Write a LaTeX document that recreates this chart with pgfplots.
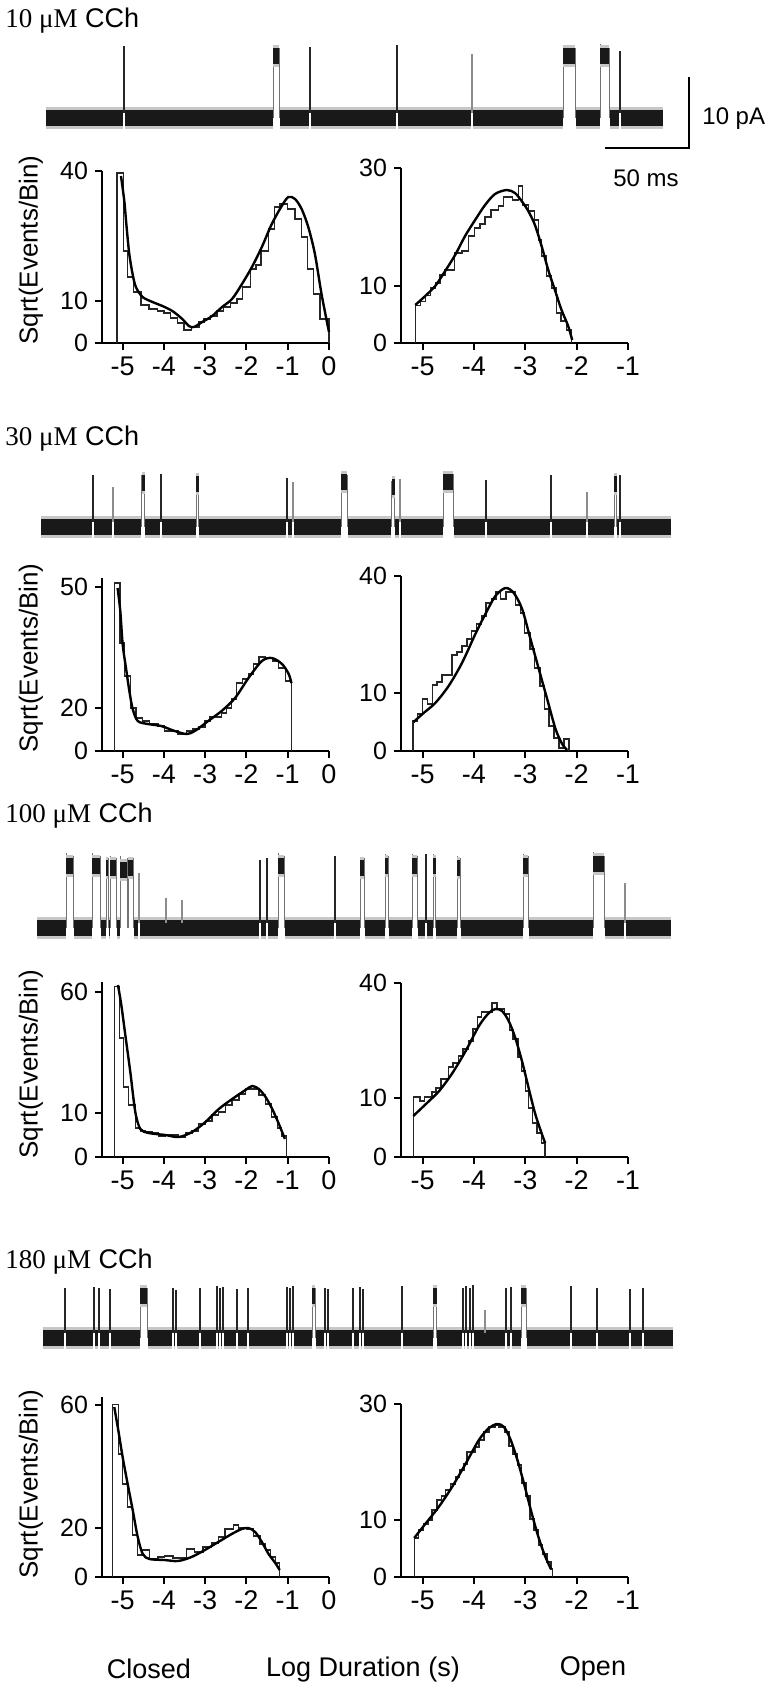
\documentclass[border=0pt]{standalone}
\usepackage{fontspec}
\setmainfont{Liberation Sans}
\newfontfamily\timesf{Liberation Serif}
\usepackage{pgfplots}
\pgfplotsset{compat=1.18}
\newcommand\tickx{\fontsize{13.5bp}{15bp}\selectfont}
\newcommand\ticky{\fontsize{12.5bp}{14bp}\selectfont}
\newcommand\labf{\fontsize{13bp}{15bp}\selectfont}
\newcommand\ttlf{\fontsize{13.5bp}{16bp}\selectfont}
\newcommand\scf{\fontsize{12bp}{14bp}\selectfont}
\newcommand\botf{\fontsize{13.5bp}{16bp}\selectfont}
\pgfplotsset{
  histax/.style={scale only axis, width=113.5bp, ymin=0, clip=false, anchor=south west,
    axis x line*=bottom, axis y line*=left, axis line style={line width=1bp,-},
    x axis line style={shorten <=-2.5bp},
    tick align=outside, major tick length=3.5bp, every tick/.style={line width=1bp,black},
    xticklabel style={font=\tickx}, yticklabel style={font=\ticky}},
  histl/.style={histax, xmin=-5.5, xmax=0, xtick={-5,-4,-3,-2,-1,0}, xticklabels={-5,-4,-3,-2,-1,0}},
  histr/.style={histax, xmin=-5.42, xmax=-1, xtick={-5,-4,-3,-2,-1}, xticklabels={-5,-4,-3,-2,-1}},
  hst/.style={const plot mark left, line width=0.7bp, black!85},
  fitc/.style={smooth, line width=1.2bp, black},
  trace/.style={scale only axis, hide axis, clip=false, anchor=south west, width=383bp, height=70bp,
    xmin=0, xmax=766, ymin=-40, ymax=100, unbounded coords=jump},
  band/.style={black!22, line width=11bp, postaction={draw=black!90, line width=8bp}},
  spk/.style={black!85, line width=0.6bp},
  gspk/.style={black!45, line width=0.6bp},
  edg/.style={black!55, line width=0.5bp},
}
\begin{document}
\begin{tikzpicture}
\useasboundingbox (0bp,0bp) rectangle (383bp,-849.5bp);

% ---------------- titles
\node[anchor=west, font=\ttlf, inner sep=0] at (2.5bp,-10.5bp) {{\timesf 10 μM} CCh};
\node[anchor=west, font=\ttlf, inner sep=0] at (2.5bp,-219.5bp) {{\timesf 30 μM} CCh};
\node[anchor=west, font=\ttlf, inner sep=0] at (2.5bp,-408bp) {{\timesf 100 μM} CCh};
\node[anchor=west, font=\ttlf, inner sep=0] at (2.5bp,-631bp) {{\timesf 180 μM} CCh};

% ---------------- scale bar
\draw[line width=1bp] (344.5bp,-38.5bp) -- (344.5bp,-74bp) -- (302.5bp,-74bp);
\node[anchor=west, font=\scf, inner sep=0] at (351bp,-59.5bp) {10 pA};
\node[font=\scf, inner sep=0] at (323bp,-89bp) {50 ms};

% ---------------- y labels
\node[rotate=90, font=\labf] at (15.5bp,-125bp) {Sqrt(Events/Bin)};
\node[rotate=90, font=\labf] at (15.5bp,-329bp) {Sqrt(Events/Bin)};
\node[rotate=90, font=\labf] at (15.5bp,-532bp) {Sqrt(Events/Bin)};
\node[rotate=90, font=\labf] at (15.5bp,-742bp) {Sqrt(Events/Bin)};

% ---------------- bottom labels
\node[font=\botf] at (74.5bp,-834.5bp) {Closed};
\node[font=\botf] at (181.5bp,-834.5bp) {Log Duration (s)};
\node[font=\botf] at (296.5bp,-834.5bp) {Open};

% ================= TRACE 1 (10 uM)
\begin{axis}[trace, at={(0bp,-78.75bp)}]
\addplot[band] coordinates {(46,0)(123.4,0) (nan,nan) (124.6,0)(272.5,0) (nan,nan) (279.5,0)(309.4,0) (nan,nan) (310.6,0)(396.4,0) (nan,nan) (397.6,0)(471.4,0) (nan,nan) (472.6,0)(562.5,0) (nan,nan) (575.5,0)(599.5,0) (nan,nan) (609.5,0)(619.4,0) (nan,nan) (620.6,0)(663,0)};
\addplot[spk] coordinates {(124,5)(124,72) (nan,nan) (310,5)(310,71) (nan,nan) (397,5)(397,73) (nan,nan) (620,5)(620,67)};
\addplot[gspk] coordinates {(472,5)(472,64)};
\addplot[edg] coordinates {(273,0)(273,72) (nan,nan) (279,0)(279,70) (nan,nan) (563,0)(563,72) (nan,nan) (575,0)(575,70) (nan,nan) (600,0)(600,74) (nan,nan) (609,0)(609,70)};
\addplot[band] coordinates {(273,62)(279,62) (nan,nan) (563,62)(575,62) (nan,nan) (600,62)(609,62)};
\end{axis}

% ================= TRACE 2 (30 uM)
\begin{axis}[trace, at={(0bp,-283.5bp)}]
\addplot[band] coordinates {(41,0)(92.4,0) (nan,nan) (93.6,0)(112.4,0) (nan,nan) (113.6,0)(141,0) (nan,nan) (145,0)(160.4,0) (nan,nan) (161.6,0)(195.5,0) (nan,nan) (199,0)(286.4,0) (nan,nan) (287.6,0)(292.4,0) (nan,nan) (293.6,0)(340.5,0) (nan,nan) (347.5,0)(391,0) (nan,nan) (395,0)(399.4,0) (nan,nan) (400.6,0)(442.5,0) (nan,nan) (453.5,0)(485.4,0) (nan,nan) (486.6,0)(550.4,0) (nan,nan) (551.6,0)(586.4,0) (nan,nan) (587.6,0)(613.5,0) (nan,nan) (617,0)(619.4,0) (nan,nan) (620.6,0)(671,0)};
\addplot[spk] coordinates {(93,5)(93,52) (nan,nan) (161,5)(161,53) (nan,nan) (287,5)(287,49) (nan,nan) (486,5)(486,47) (nan,nan) (551,5)(551,52) (nan,nan) (620,5)(620,52)};
\addplot[gspk] coordinates {(113,5)(113,40) (nan,nan) (293,5)(293,45) (nan,nan) (400,5)(400,48) (nan,nan) (587,5)(587,35)};
\addplot[edg] coordinates {(141.5,0)(141.5,52) (nan,nan) (144.5,0)(144.5,50) (nan,nan) (196,0)(196,50) (nan,nan) (198.5,0)(198.5,49) (nan,nan) (341,0)(341,55) (nan,nan) (347,0)(347,52) (nan,nan) (391.5,0)(391.5,46) (nan,nan) (394.5,0)(394.5,46) (nan,nan) (443,0)(443,56) (nan,nan) (453,0)(453,53) (nan,nan) (614,0)(614,50) (nan,nan) (616.5,0)(616.5,50)};
\addplot[band] coordinates {(141.5,44)(144.5,44) (nan,nan) (196,43)(198.5,43) (nan,nan) (341,45)(347,45) (nan,nan) (391.5,40)(394.5,40) (nan,nan) (443,45)(453,45) (nan,nan) (614,43)(616.5,43)};
\end{axis}

% ================= TRACE 3 (100 uM)
\begin{axis}[trace, at={(0bp,-484bp)}]
\addplot[band] coordinates {(37,0)(65.5,0) (nan,nan) (73.5,0)(91.5,0) (nan,nan) (100.5,0)(105.5,0) (nan,nan) (108.5,0)(109.5,0) (nan,nan) (116.5,0)(119.5,0) (nan,nan) (133.5,0)(138.4,0) (nan,nan) (139.6,0)(259.4,0) (nan,nan) (260.6,0)(266.4,0) (nan,nan) (267.6,0)(277.5,0) (nan,nan) (284.5,0)(334.4,0) (nan,nan) (335.6,0)(359.5,0) (nan,nan) (364.5,0)(384.5,0) (nan,nan) (388.5,0)(411.5,0) (nan,nan) (417.5,0)(425.4,0) (nan,nan) (426.6,0)(432.5,0) (nan,nan) (436,0)(456.5,0) (nan,nan) (460.5,0)(522.5,0) (nan,nan) (528.5,0)(592.5,0) (nan,nan) (604.5,0)(624.4,0) (nan,nan) (625.6,0)(671,0)};
\addplot[spk] coordinates {(260,5)(260,68) (nan,nan) (267,5)(267,70) (nan,nan) (335,5)(335,72) (nan,nan) (426,5)(426,74)};
\addplot[gspk] coordinates {(139,5)(139,55) (nan,nan) (166,5)(166,30) (nan,nan) (182,5)(182,28) (nan,nan) (625,5)(625,45)};
\addplot[edg] coordinates {(66,0)(66,75) (nan,nan) (73,0)(73,72) (nan,nan) (92,0)(92,75) (nan,nan) (100,0)(100,72) (nan,nan) (106,0)(106,70) (nan,nan) (108,0)(108,70) (nan,nan) (110,0)(110,72) (nan,nan) (116,0)(116,70) (nan,nan) (120,0)(120,72) (nan,nan) (127,0)(127,70) (nan,nan) (128,0)(128,70) (nan,nan) (133,0)(133,70) (nan,nan) (278,0)(278,75) (nan,nan) (284,0)(284,72) (nan,nan) (360,0)(360,70) (nan,nan) (364,0)(364,70) (nan,nan) (385,0)(385,74) (nan,nan) (388,0)(388,72) (nan,nan) (412,0)(412,74) (nan,nan) (417,0)(417,72) (nan,nan) (433,0)(433,74) (nan,nan) (435.5,0)(435.5,72) (nan,nan) (457,0)(457,72) (nan,nan) (460,0)(460,70) (nan,nan) (523,0)(523,74) (nan,nan) (528,0)(528,72) (nan,nan) (593,0)(593,76) (nan,nan) (604,0)(604,72)};
\addplot[band] coordinates {(66,62)(73,62) (nan,nan) (92,62)(100,62) (nan,nan) (106,60)(108,60) (nan,nan) (110,60)(116,60) (nan,nan) (120,58)(127,58) (nan,nan) (128,60)(133,60) (nan,nan) (278,62)(284,62) (nan,nan) (360,60)(364,60) (nan,nan) (385,62)(388,62) (nan,nan) (412,62)(417,62) (nan,nan) (433,62)(435.5,62) (nan,nan) (457,60)(460,60) (nan,nan) (523,62)(528,62) (nan,nan) (593,64)(604,64)};
\end{axis}

% ================= TRACE 4 (180 uM)
\begin{axis}[trace, at={(0bp,-689bp)}]
\addplot[band] coordinates {(43,0)(64.4,0) (nan,nan) (65.6,0)(93.4,0) (nan,nan) (94.6,0)(98.4,0) (nan,nan) (99.6,0)(109.4,0) (nan,nan) (110.6,0)(139.5,0) (nan,nan) (147.5,0)(172.4,0) (nan,nan) (173.6,0)(175.4,0) (nan,nan) (176.6,0)(199.4,0) (nan,nan) (200.6,0)(216.4,0) (nan,nan) (217.6,0)(219.4,0) (nan,nan) (220.6,0)(222.4,0) (nan,nan) (223.6,0)(236.4,0) (nan,nan) (237.6,0)(247.4,0) (nan,nan) (248.6,0)(286.4,0) (nan,nan) (287.6,0)(289.4,0) (nan,nan) (290.6,0)(292.4,0) (nan,nan) (293.6,0)(311.5,0) (nan,nan) (315.5,0)(324.4,0) (nan,nan) (325.6,0)(327.4,0) (nan,nan) (328.6,0)(352.4,0) (nan,nan) (353.6,0)(359.4,0) (nan,nan) (360.6,0)(362.4,0) (nan,nan) (363.6,0)(401.4,0) (nan,nan) (402.6,0)(432.5,0) (nan,nan) (437,0)(462.4,0) (nan,nan) (463.6,0)(465.4,0) (nan,nan) (466.6,0)(469.4,0) (nan,nan) (470.6,0)(472.4,0) (nan,nan) (473.6,0)(505.4,0) (nan,nan) (506.6,0)(510.4,0) (nan,nan) (511.6,0)(520.5,0) (nan,nan) (526.5,0)(570.4,0) (nan,nan) (571.6,0)(596.4,0) (nan,nan) (597.6,0)(629.4,0) (nan,nan) (630.6,0)(642.4,0) (nan,nan) (643.6,0)(673,0)};
\addplot[spk] coordinates {(65,5)(65,50) (nan,nan) (94,5)(94,51) (nan,nan) (99,5)(99,50) (nan,nan) (110,5)(110,49) (nan,nan) (173,5)(173,50) (nan,nan) (176,5)(176,48) (nan,nan) (200,5)(200,50) (nan,nan) (217,5)(217,52) (nan,nan) (220,5)(220,50) (nan,nan) (223,5)(223,51) (nan,nan) (237,5)(237,49) (nan,nan) (248,5)(248,50) (nan,nan) (287,5)(287,51) (nan,nan) (290,5)(290,50) (nan,nan) (293,5)(293,52) (nan,nan) (325,5)(325,50) (nan,nan) (328,5)(328,49) (nan,nan) (353,5)(353,50) (nan,nan) (360,5)(360,51) (nan,nan) (363,5)(363,49) (nan,nan) (402,5)(402,52) (nan,nan) (463,5)(463,50) (nan,nan) (466,5)(466,52) (nan,nan) (470,5)(470,50) (nan,nan) (473,5)(473,53) (nan,nan) (506,5)(506,50) (nan,nan) (511,5)(511,51) (nan,nan) (571,5)(571,52) (nan,nan) (597,5)(597,50) (nan,nan) (630,5)(630,49) (nan,nan) (643,5)(643,50)};
\addplot[gspk] coordinates {(485,5)(485,28)};
\addplot[edg] coordinates {(140,0)(140,52) (nan,nan) (147,0)(147,50) (nan,nan) (312,0)(312,52) (nan,nan) (315,0)(315,50) (nan,nan) (433,0)(433,53) (nan,nan) (436.5,0)(436.5,50) (nan,nan) (521,0)(521,52) (nan,nan) (526,0)(526,50)};
\addplot[band] coordinates {(140,42)(147,42) (nan,nan) (312,42)(315,42) (nan,nan) (433,42)(436.5,42) (nan,nan) (521,42)(526,42)};
\end{axis}

% ================= PANEL 1 LEFT
\begin{axis}[histl, at={(51bp,-171.5bp)}, height=86bp, ymax=172, ytick={0,42,172}, yticklabels={0,10,40}]
\addplot[hst] coordinates {(-5.137,0)(-5.137,170)(-4.984,92)(-4.880,66)(-4.735,51)(-4.558,38)(-4.357,34)(-4.157,32)(-3.996,30)(-3.835,25)(-3.675,20)(-3.514,13)(-3.329,16)(-3.153,21)(-3.032,24)(-2.871,27)(-2.711,32)(-2.550,36)(-2.390,40)(-2.229,44)(-2.092,56)(-1.908,74)(-1.771,78)(-1.643,92)(-1.466,114)(-1.321,136)(-1.185,139)(-1.000,134)(-0.823,124)(-0.663,106)(-0.518,74)(-0.382,49)(-0.221,24)(-0.141,24)(0,24)(0,0)};
\addplot[fitc] coordinates {(-5.040,167)(-4.960,142)(-4.904,116)(-4.839,89)(-4.759,69)(-4.679,56)(-4.518,46)(-4.277,41)(-4.036,37)(-3.795,32)(-3.554,24)(-3.394,17)(-3.273,16)(-3.072,21)(-2.831,27)(-2.590,36)(-2.349,44)(-2.108,59)(-1.867,76)(-1.627,96)(-1.386,119)(-1.145,137)(-0.984,146)(-0.823,144)(-0.663,134)(-0.502,116)(-0.341,89)(-0.181,49)(0,11)};
\end{axis}

% ================= PANEL 1 RIGHT
\begin{axis}[histr, at={(200.5bp,-171.5bp)}, height=87.75bp, ymax=175.5, ytick={0,57.5,175.5}, yticklabels={0,10,30}]
\addplot[hst] coordinates {(-5.142,0)(-5.142,37.7)(-5.045,41.7)(-4.948,47.7)(-4.851,55)(-4.754,60)(-4.657,68)(-4.560,73)(-4.379,90)(-4.236,92)(-4.107,107)(-3.990,115)(-3.880,119)(-3.783,126)(-3.667,133)(-3.524,137)(-3.427,146)(-3.252,143)(-3.136,157)(-3.058,138)(-2.942,132)(-2.825,123)(-2.748,103)(-2.683,87)(-2.586,67)(-2.489,55)(-2.392,30)(-2.307,22)(-2.197,13)(-2.100,13)(-2.100,0)};
\addplot[fitc] coordinates {(-5.142,38)(-4.948,47)(-4.754,57)(-4.560,72)(-4.366,88)(-4.172,107)(-3.977,123)(-3.783,138)(-3.589,149)(-3.362,153)(-3.201,150)(-3.071,142)(-2.942,132)(-2.812,118)(-2.683,97)(-2.553,73)(-2.424,53)(-2.294,33)(-2.165,17)(-2.087,3)};
\end{axis}

% ================= PANEL 2 LEFT
\begin{axis}[histl, at={(51bp,-375.5bp)}, height=86.5bp, ymax=173, ytick={0,43.3,164}, yticklabels={0,20,50}]
\addplot[hst] coordinates {(-5.203,0)(-5.203,168)(-5.065,108)(-4.959,75)(-4.813,43)(-4.675,33)(-4.512,30)(-4.350,27)(-4.146,25)(-3.984,20)(-3.659,17)(-3.455,20)(-3.293,22)(-3.154,24)(-3.008,30)(-2.886,34)(-2.764,34)(-2.602,38)(-2.480,43)(-2.358,52)(-2.236,68)(-2.098,72)(-1.951,77)(-1.829,87)(-1.691,94)(-1.545,93)(-1.366,90)(-1.220,83)(-1.057,70)(-0.911,70)(-0.911,0)};
\addplot[fitc] coordinates {(-5.122,163)(-5.057,140)(-5.0,107)(-4.919,83)(-4.837,60)(-4.756,42)(-4.634,30)(-4.390,27)(-4.065,25)(-3.740,20)(-3.455,17)(-3.252,20)(-2.927,30)(-2.602,40)(-2.276,53)(-1.951,73)(-1.626,90)(-1.382,93)(-1.138,87)(-0.976,77)(-0.911,68)};
\end{axis}

% ================= PANEL 2 RIGHT
\begin{axis}[histr, at={(200.5bp,-375.5bp)}, height=87.5bp, ymax=175, ytick={0,58.4,175}, yticklabels={0,10,40}]
\addplot[hst] coordinates {(-5.189,0)(-5.189,30)(-5.098,37)(-5.0,52)(-4.902,47)(-4.805,66)(-4.720,69)(-4.623,76)(-4.525,76)(-4.428,96)(-4.330,99)(-4.233,105)(-4.135,112)(-4.050,120)(-3.953,127)(-3.855,135)(-3.764,148)(-3.660,152)(-3.569,159)(-3.485,152)(-3.374,159)(-3.192,146)(-3.094,138)(-3.010,118)(-2.912,102)(-2.815,83)(-2.717,65)(-2.626,42)(-2.541,25)(-2.444,13)(-2.346,3)(-2.249,12)(-2.151,12)(-2.151,0)};
\addplot[fitc] coordinates {(-5.176,29)(-4.980,38)(-4.753,48)(-4.493,65)(-4.233,88)(-3.972,117)(-3.777,137)(-3.582,155)(-3.387,163)(-3.224,158)(-3.062,142)(-2.899,112)(-2.737,82)(-2.574,52)(-2.411,22)(-2.281,7)(-2.184,1)};
\end{axis}

% ================= PANEL 3 LEFT
\begin{axis}[histl, at={(51bp,-578.5bp)}, height=87.5bp, ymax=175, ytick={0,44,165}, yticklabels={0,10,60}]
\addplot[hst] coordinates {(-5.202,0)(-5.202,170.7)(-5.081,119)(-4.976,70)(-4.854,52)(-4.693,29)(-4.571,26)(-4.450,25)(-4.288,24)(-4.126,21)(-3.964,22)(-3.641,20)(-3.479,24)(-3.317,26)(-3.155,33)(-2.994,36)(-2.832,42)(-2.670,45)(-2.508,52)(-2.346,57)(-2.184,63)(-2.023,68)(-1.861,68)(-1.699,62)(-1.537,53)(-1.392,40)(-1.254,29)(-1.149,21)(-1.036,21)(-1.036,0)};
\addplot[fitc] coordinates {(-5.113,172)(-5.032,152)(-4.935,122)(-4.814,85)(-4.693,45)(-4.571,28)(-4.369,24)(-3.964,22)(-3.641,20)(-3.317,25)(-2.994,35)(-2.670,48)(-2.346,58)(-2.023,67)(-1.861,71)(-1.699,68)(-1.537,60)(-1.375,48)(-1.214,33)(-1.068,18)};
\end{axis}

% ================= PANEL 3 RIGHT
\begin{axis}[histr, at={(200.5bp,-578.5bp)}, height=87.15bp, ymax=174.3, ytick={0,58.7,174.3}, yticklabels={0,10,40}]
\addplot[hst] coordinates {(-5.181,0)(-5.181,60)(-5.052,56)(-4.968,60)(-4.819,65)(-4.742,69)(-4.645,78)(-4.497,90)(-4.406,94)(-4.303,101)(-4.213,108)(-4.110,116)(-4.019,128)(-3.935,140)(-3.858,145)(-3.645,154)(-3.548,148)(-3.400,143)(-3.310,127)(-3.239,118)(-3.142,100)(-3.077,86)(-3.000,66)(-2.935,49)(-2.858,34)(-2.774,24)(-2.690,14)(-2.613,14)(-2.613,0)};
\addplot[fitc] coordinates {(-5.181,41)(-4.935,53)(-4.677,66)(-4.419,84)(-4.161,106)(-3.903,131)(-3.710,144)(-3.581,148)(-3.452,146)(-3.323,136)(-3.194,119)(-3.065,96)(-2.935,69)(-2.806,43)(-2.677,23)(-2.613,14)};
\end{axis}

% ================= PANEL 4 LEFT
\begin{axis}[histl, at={(51bp,-788.5bp)}, height=90bp, ymax=180, ytick={0,49.4,171.7}, yticklabels={0,20,60}]
\addplot[hst] coordinates {(-5.244,0)(-5.244,172.7)(-5.106,123)(-5.0,93)(-4.878,70)(-4.756,42)(-4.634,22)(-4.512,27)(-4.350,18)(-4.146,20)(-3.984,21)(-3.780,19)(-3.455,28)(-3.252,25)(-3.049,30)(-2.846,34)(-2.683,40)(-2.520,48)(-2.317,52)(-2.195,49)(-1.992,48)(-1.829,41)(-1.667,33)(-1.545,27)(-1.423,20)(-1.301,14)(-1.195,14)(-1.195,0)};
\addplot[fitc] coordinates {(-5.203,170)(-5.106,147)(-5.0,120)(-4.878,93)(-4.756,67)(-4.634,40)(-4.512,23)(-4.350,18)(-3.984,17)(-3.659,16)(-3.333,20)(-3.008,27)(-2.683,35)(-2.358,43)(-2.114,48)(-1.951,49)(-1.789,45)(-1.626,35)(-1.463,23)(-1.301,14)(-1.195,7)};
\end{axis}

% ================= PANEL 4 RIGHT
\begin{axis}[histr, at={(200.5bp,-788.5bp)}, height=86.7bp, ymax=173.4, ytick={0,57.4,173.4}, yticklabels={0,10,30}]
\addplot[hst] coordinates {(-5.163,0)(-5.163,39)(-5.078,47)(-4.980,53)(-4.883,57)(-4.817,67)(-4.719,77)(-4.635,81)(-4.556,87)(-4.458,93)(-4.361,100)(-4.282,107)(-4.197,113)(-4.132,125)(-3.982,130)(-3.904,137)(-3.806,145)(-3.708,150)(-3.591,152)(-3.512,150)(-3.395,145)(-3.316,131)(-3.238,123)(-3.153,112)(-3.069,94)(-2.990,81)(-2.905,58)(-2.827,47)(-2.742,32)(-2.664,23)(-2.579,15)(-2.501,8)(-2.468,8)(-2.468,0)};
\addplot[fitc] coordinates {(-5.163,39)(-4.948,53)(-4.687,70)(-4.426,90)(-4.165,113)(-3.904,137)(-3.708,149)(-3.545,153)(-3.414,150)(-3.284,137)(-3.153,117)(-3.023,93)(-2.892,67)(-2.762,43)(-2.631,23)(-2.501,8)};
\end{axis}
\end{tikzpicture}
\end{document}
